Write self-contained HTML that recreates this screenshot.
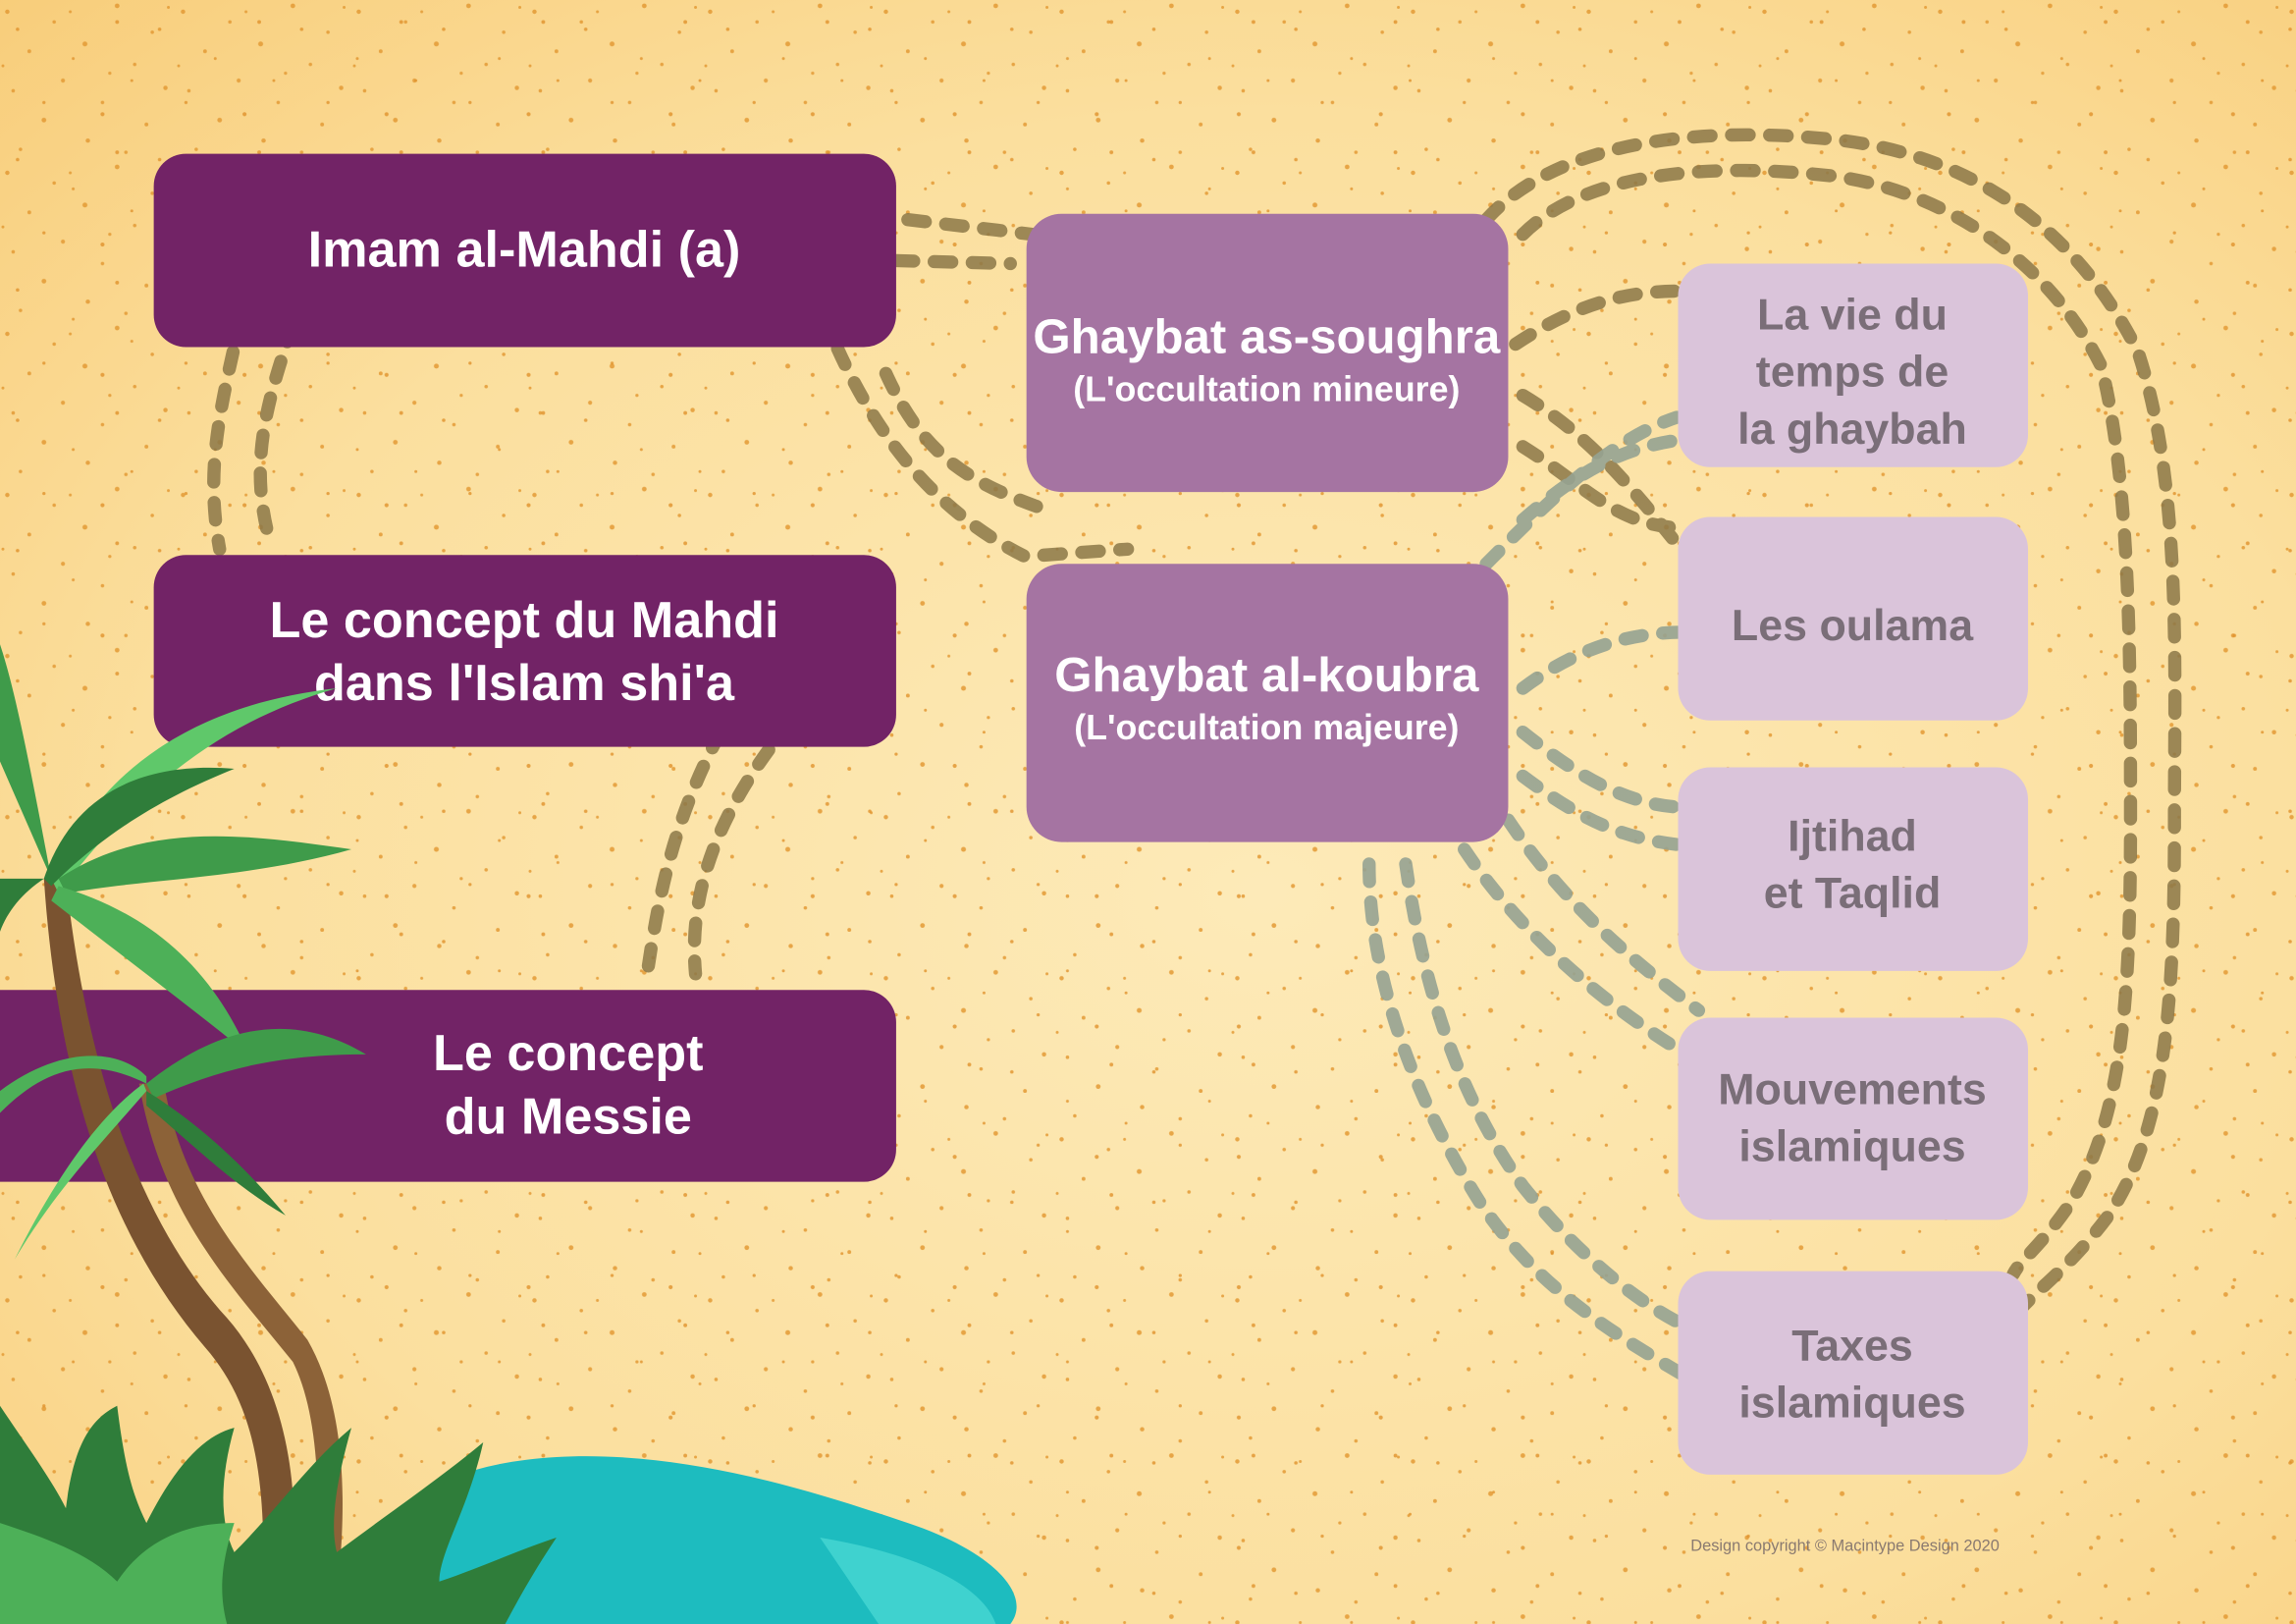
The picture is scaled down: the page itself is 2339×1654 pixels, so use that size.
<!DOCTYPE html>
<html><head><meta charset="utf-8">
<style>
html,body{margin:0;padding:0;width:2339px;height:1654px;overflow:hidden;background:#fbe0a0}
svg{display:block}
text{font-family:"Liberation Sans","DejaVu Sans",sans-serif}
</style></head>
<body>
<svg width="2339" height="1654" viewBox="0 0 1568 1109" preserveAspectRatio="none" xmlns="http://www.w3.org/2000/svg">
<defs>
<radialGradient id="bg" cx="0.55" cy="0.55" r="0.8">
<stop offset="0" stop-color="#fdeab8"/>
<stop offset="0.6" stop-color="#fbdf9e"/>
<stop offset="1" stop-color="#f8cc78"/>
</radialGradient>
<pattern id="dots" width="120" height="110" patternUnits="userSpaceOnUse">
<g fill="#e39a35">
<circle cx="5" cy="8" r="1.5"/><circle cx="37" cy="15" r="1.2"/><circle cx="80" cy="4" r="1.6"/><circle cx="104" cy="22" r="1.2"/>
<circle cx="20" cy="35" r="1.3"/><circle cx="58" cy="30" r="1.7"/><circle cx="92" cy="44" r="1.2"/><circle cx="113" cy="60" r="1.5"/>
<circle cx="9" cy="62" r="1.2"/><circle cx="43" cy="55" r="1.4"/><circle cx="70" cy="70" r="1.2"/><circle cx="30" cy="82" r="1.6"/>
<circle cx="100" cy="85" r="1.3"/><circle cx="60" cy="96" r="1.5"/><circle cx="14" cy="102" r="1.2"/><circle cx="86" cy="104" r="1.2"/>
<circle cx="48" cy="8" r="1"/><circle cx="75" cy="50" r="1.1"/><circle cx="2" cy="45" r="1"/><circle cx="115" cy="5" r="1"/>
</g>
</pattern>
<pattern id="dots2" width="97" height="89" patternUnits="userSpaceOnUse">
<g fill="#e0922c">
<circle cx="12" cy="20" r="1.2"/><circle cx="50" cy="40" r="1"/><circle cx="80" cy="15" r="1.3"/><circle cx="30" cy="70" r="1.1"/><circle cx="70" cy="78" r="1.4"/><circle cx="90" cy="55" r="1"/>
</g>
</pattern>
</defs>
<rect width="1568" height="1109" fill="url(#bg)"/>
<rect width="1568" height="1109" fill="url(#dots)" opacity="0.85"/>
<rect width="1568" height="1109" fill="url(#dots2)" opacity="0.8"/>

<g fill="none" stroke="#8c7848" stroke-width="9" stroke-linecap="round" stroke-dasharray="12 14" opacity="0.85">
<path d="M165,215 C150,280 140,320 150,375"/>
<path d="M200,222 C180,280 170,320 185,372"/>
<path d="M620,150 L705,160"/><path d="M612,178 L690,180"/>
<path d="M572,238 C600,300 640,350 700,380 L770,375"/>
<path d="M605,255 C630,310 660,330 720,350"/>
<path d="M525,512 C490,560 470,610 475,665"/>
<path d="M492,500 C460,560 450,610 442,665"/>
<path d="M1015,150 C1060,100 1150,85 1250,95 C1350,105 1420,160 1460,240 C1490,330 1485,450 1485,560 C1485,680 1480,770 1440,830 C1410,870 1390,880 1370,905"/>
<path d="M1040,160 C1080,120 1160,110 1250,120 C1330,130 1400,180 1435,250 C1455,330 1455,450 1455,560 C1455,680 1450,760 1415,820 C1395,850 1380,860 1375,870"/>
<path d="M1035,235 C1080,205 1120,195 1170,200"/>
<path d="M1040,270 C1090,300 1120,340 1160,390"/>
<path d="M1040,305 C1080,330 1100,355 1140,360"/>
</g>
<g fill="none" stroke="#96a392" stroke-width="9" stroke-linecap="round" stroke-dasharray="12 14" opacity="0.9">
<path d="M1015,385 C1060,340 1100,300 1145,285"/>
<path d="M1040,355 C1080,320 1110,305 1150,300"/>
<path d="M1040,470 C1080,440 1120,430 1160,432"/>
<path d="M1040,500 C1090,540 1130,560 1185,548"/>
<path d="M1040,530 C1080,560 1110,575 1160,578"/>
<path d="M1000,580 C1040,640 1100,690 1160,725"/>
<path d="M1030,560 C1070,620 1120,660 1160,690"/>
<path d="M935,590 C935,660 960,740 1010,820 C1050,880 1100,910 1160,945"/>
<path d="M960,590 C970,660 990,740 1040,810 C1080,860 1120,890 1150,905"/>
</g>

<g fill="#722366">
<rect x="105" y="105" width="507" height="132" rx="22"/>
<rect x="105" y="379" width="507" height="131" rx="22"/>
<rect x="-30" y="676" width="642" height="131" rx="22"/>
</g>
<g fill="#fff" font-size="35" text-anchor="middle" font-weight="600">
<text x="358" y="182">Imam al-Mahdi (a)</text>
<text x="358" y="435">Le concept du Mahdi</text>
<text x="358" y="478">dans l'Islam shi'a</text>
<text x="388" y="731">Le concept</text>
<text x="388" y="774">du Messie</text>
</g>

<g fill="#a574a2">
<rect x="701" y="146" width="329" height="190" rx="24"/>
<rect x="701" y="385" width="329" height="190" rx="24"/>
</g>
<g fill="#fff" text-anchor="middle" font-weight="600">
<text x="865" y="241" font-size="33">Ghaybat as-soughra</text>
<text x="865" y="274" font-size="24">(L'occultation mineure)</text>
<text x="865" y="472" font-size="33">Ghaybat al-koubra</text>
<text x="865" y="505" font-size="24">(L'occultation majeure)</text>
</g>

<g fill="#dac4da">
<rect x="1146" y="180" width="239" height="139" rx="22"/>
<rect x="1146" y="353" width="239" height="139" rx="22"/>
<rect x="1146" y="524" width="239" height="139" rx="22"/>
<rect x="1146" y="695" width="239" height="138" rx="22"/>
<rect x="1146" y="868" width="239" height="139" rx="22"/>
</g>
<g fill="#7a6e78" font-size="30" text-anchor="middle" font-weight="600">
<text x="1265" y="225">La vie du</text>
<text x="1265" y="264">temps de</text>
<text x="1265" y="303">la ghaybah</text>
<text x="1265" y="437">Les oulama</text>
<text x="1265" y="581">Ijtihad</text>
<text x="1265" y="620">et Taqlid</text>
<text x="1265" y="754">Mouvements</text>
<text x="1265" y="793">islamiques</text>
<text x="1265" y="929">Taxes</text>
<text x="1265" y="968">islamiques</text>
</g>
<text x="1260" y="1059" font-size="11" fill="#8a7a70" text-anchor="middle">Design copyright © Macintype Design 2020</text>

<path d="M220,1109 C240,1040 290,1000 380,995 C470,990 560,1020 620,1040 C680,1060 705,1090 690,1109 Z" fill="#1dbcbf"/>
<path d="M560,1050 C620,1060 670,1080 680,1109 L600,1109 Z" fill="#3fd2cf"/>

<path d="M30,600 C40,750 80,850 140,920 C175,960 180,1010 180,1070 L200,1070 C205,1000 190,940 155,900 C100,840 60,740 45,600 Z" fill="#7a5330"/>
<path d="M95,740 C110,830 160,880 200,930 C215,960 220,1010 215,1070 L232,1070 C238,1000 230,950 210,915 C175,870 125,820 112,740 Z" fill="#8c6238"/>

<g>
<path d="M35,600 C70,520 140,480 230,470 C160,490 100,530 40,610 Z" fill="#5fc86a"/>
<path d="M35,600 C20,520 10,470 0,440 L0,520 Z" fill="#3f9b4a"/>
<path d="M40,600 C100,560 170,570 240,580 C170,600 100,600 45,610 Z" fill="#3f9b4a"/>
<path d="M40,605 C90,620 140,650 170,720 C120,680 80,650 35,615 Z" fill="#4db058"/>
<path d="M30,600 C0,620 -10,650 0,680 L0,600 Z" fill="#2f7d3a"/>
<path d="M30,600 C50,540 100,520 160,525 C110,545 70,570 35,605 Z" fill="#2f7d3a"/>
<path d="M100,740 C150,700 200,690 250,720 C190,720 150,730 105,750 Z" fill="#3f9b4a"/>
<path d="M100,745 C140,770 170,800 195,830 C160,810 130,780 100,755 Z" fill="#2f7d3a"/>
<path d="M100,740 C60,720 30,730 0,760 L0,745 C40,715 80,715 100,735 Z" fill="#4db058"/>
<path d="M100,745 C70,780 40,810 10,860 C40,800 70,760 98,740 Z" fill="#5fc86a"/>
</g>
<path d="M0,1109 L0,960 C20,990 35,1010 45,1030 C50,990 60,970 80,960 C85,1000 90,1020 100,1040 C120,1000 140,980 160,975 C150,1010 150,1040 160,1060 C190,1030 210,1000 240,975 C230,1010 225,1040 230,1060 C270,1030 300,1010 330,985 C320,1030 300,1060 300,1080 C330,1070 350,1060 380,1050 C360,1080 350,1100 345,1109 Z" fill="#2f7d3a"/>
<path d="M0,1109 L0,1040 C30,1050 60,1060 80,1080 C100,1050 130,1040 160,1040 C150,1070 150,1090 155,1109 Z" fill="#4db058"/>
</svg>
</body></html>
